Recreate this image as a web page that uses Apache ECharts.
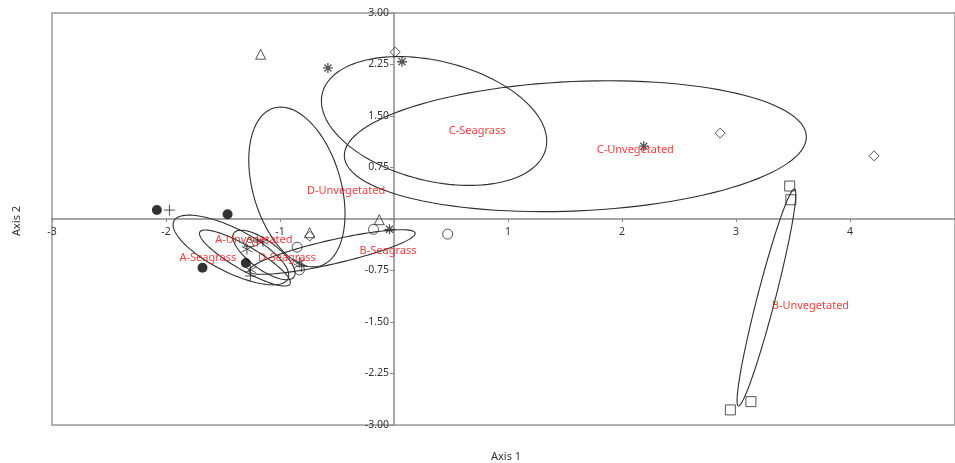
<!DOCTYPE html>
<html><head><meta charset="utf-8">
<script src="https://cdn.jsdelivr.net/npm/echarts@6/dist/echarts.min.js"></script>
<style>html,body{margin:0;padding:0;background:#fff}#c{width:955px;height:463px}</style>
</head><body><div id="c"></div>
<script>
// Group names
const groups = ['A-Seagrass','A-Unvegetated','B-Seagrass','B-Unvegetated','C-Seagrass','C-Unvegetated','D-Seagrass','D-Unvegetated'];
// Point coordinates per group (Axis 1, Axis 2)
const aSeagrassX = [-2.08, -1.46, -1.68, -1.30];
const aSeagrassY = [0.13, 0.07, -0.71, -0.64];
const aUnvegX = [-1.97, -1.20, -0.81, -1.26];
const aUnvegY = [0.13, -0.32, -0.69, -0.83];
const bSeagrassX = [-0.85, -0.83, -0.18, 0.47];
const bSeagrassY = [-0.41, -0.74, -0.15, -0.22];
const bUnvegX = [3.47, 3.48, 2.95, 3.13];
const bUnvegY = [0.48, 0.28, -2.78, -2.66];
const cSeagrassX = [-0.58, 0.07, 2.19, -0.04];
const cSeagrassY = [2.20, 2.29, 1.06, -0.15];
const cUnvegX = [0.01, 2.86, 4.21, -0.74];
const cUnvegY = [2.43, 1.25, 0.92, -0.25];
const dSeagrassX = [-1.29, -1.26, -1.15, -0.83];
const dSeagrassY = [-0.44, -0.74, -0.33, -0.63];
const dUnvegX = [-1.17, -0.74, -0.13, -1.27];
const dUnvegY = [2.40, -0.20, -0.01, -0.33];
// Ellipses: centre, half major-axis vector (data units), minor/major ratio
const ellipseCx = [-1.431, -1.308, -0.544, 3.266, 0.351, 1.59, -1.141, -0.852];
const ellipseCy = [-0.451, -0.568, -0.481, -1.143, 1.427, 1.06, -0.524, 0.466];
const ellipseUx = [0.500, 0.395, 0.729, 0.246, 0.98, 2.026, 0.263, 0.202];
const ellipseUy = [-0.422, -0.379, 0.277, 1.580, -0.405, 0.146, -0.320, -1.150];
const ellipseRatio = [0.34, 0.23, 0.14, 0.08, 0.52, 0.28, 0.38, 0.535];
// Group label positions
const labelX = [-1.633, -1.229, -0.053, 3.652, 0.729, 2.116, -0.939, -0.421];
const labelY = [-0.568, -0.306, -0.466, -1.267, 1.281, 1.005, -0.568, 0.408];
// Axis ticks
const xMin = -3, xMax = 4.92, xStep = 1;
const yMin = -3, yMax = 3, yStep = 0.75;

const W = 955, H = 463;
const gridL = 52, gridR = 0, gridT = 13, gridB = 38;
const gridW = W - gridL - gridR, gridH = H - gridT - gridB;
// shift axes so they cross at the origin
const xAxisOffset = -((0 - yMin) / (yMax - yMin)) * gridH;
const yAxisOffset = -((0 - xMin) / (xMax - xMin)) * gridW;

const zip = (xs, ys) => xs.map((x, i) => [x, ys[i]]);
const plusPath = 'path://M0,-5L0,5M-5,0L5,0';
const asteriskPath = 'path://M0,-5L0,5M-5,0L5,0M-3.5,-3.5L3.5,3.5M-3.5,3.5L3.5,-3.5';
const star6Path = 'path://M0,-5L0,5M-4.3,-2.5L4.3,2.5M-4.3,2.5L4.3,-2.5';

function pts(name, xs, ys, symbol, size, filled, bw) {
  return {
    type: 'scatter', name, data: zip(xs, ys), symbol, symbolSize: size, z: 5,
    itemStyle: filled ? {color: '#000'} : {color: 'rgba(255,255,255,0)', borderColor: '#2a2a2a', borderWidth: bw || 1},
    silent: true
  };
}

const chart = echarts.init(document.getElementById('c'), null, {renderer: 'canvas'});
const tickFont = {color: '#333', fontSize: 10.5, fontFamily: 'Noto Sans'};
chart.setOption({
  animation: false,
  backgroundColor: '#fff',
  grid: {left: gridL, right: gridR, top: gridT, bottom: gridB, containLabel: false, outerBoundsMode: 'none',
         show: true, borderColor: '#999', borderWidth: 1.5},
  xAxis: {
    type: 'value', min: xMin, max: xMax, interval: xStep, offset: xAxisOffset,
    axisLine: {onZero: false, lineStyle: {color: '#888', width: 1.5}},
    axisTick: {show: true, length: 3, lineStyle: {color: '#888'}},
    splitLine: {show: false},
    axisLabel: Object.assign({margin: 8, showMaxLabel: false,
      formatter: v => (v === 0 || Math.abs(v - Math.round(v)) > 1e-9) ? '' : String(v)}, tickFont)
  },
  yAxis: {
    type: 'value', min: yMin, max: yMax, interval: yStep, offset: yAxisOffset,
    axisLine: {onZero: false, lineStyle: {color: '#888', width: 1.5}},
    axisTick: {show: true, length: 4, lineStyle: {color: '#888'}},
    splitLine: {show: false},
    axisLabel: Object.assign({margin: 5, formatter: v => Math.abs(v) < 1e-9 ? '' : v.toFixed(2)}, tickFont)
  },
  graphic: [
    {type: 'text', left: 491, top: 451, style: {text: 'Axis 1', fill: '#333', font: '11px "Noto Sans"'}},
    {type: 'text', x: 11, y: 236, rotation: Math.PI / 2, style: {text: 'Axis 2', fill: '#333', font: '11px "Noto Sans"'}}
  ],
  series: [
    {
      type: 'custom', name: 'ellipses', z: 3, silent: true,
      data: ellipseCx.map((c, i) => [c, ellipseCy[i], ellipseUx[i], ellipseUy[i], ellipseRatio[i]]),
      dimensions: ['cx','cy','ux','uy','r'],
      encode: {x: 0, y: 1},
      renderItem: function (params, api) {
        const cx = api.value(0), cy = api.value(1), ux = api.value(2), uy = api.value(3), r = api.value(4);
        const c = api.coord([cx, cy]);
        const e = api.coord([cx + ux, cy + uy]);
        const dx = e[0] - c[0], dy = e[1] - c[1];
        const px = -dy * r, py = dx * r;
        const p = [];
        for (let i = 0; i < 120; i++) {
          const t = i / 120 * Math.PI * 2;
          p.push([c[0] + dx * Math.cos(t) + px * Math.sin(t), c[1] + dy * Math.cos(t) + py * Math.sin(t)]);
        }
        return {type: 'polygon', shape: {points: p}, style: {fill: 'none', stroke: '#2f2f2f', lineWidth: 1.1}};
      }
    },
    pts(groups[0], aSeagrassX, aSeagrassY, 'circle', 10, true),
    pts(groups[1], aUnvegX, aUnvegY, plusPath, 11, false),
    pts(groups[2], bSeagrassX, bSeagrassY, 'circle', 10, false),
    pts(groups[3], bUnvegX, bUnvegY, 'rect', 10, false),
    pts(groups[4], cSeagrassX, cSeagrassY, asteriskPath, 10, false, 1.3),
    pts(groups[5], cUnvegX, cUnvegY, 'diamond', 10, false),
    pts(groups[6], dSeagrassX, dSeagrassY, star6Path, 11, false),
    pts(groups[7], dUnvegX, dUnvegY, 'triangle', 10, false),
    {
      type: 'scatter', name: 'labels', symbolSize: 0, z: 6, silent: true,
      data: groups.map((g, i) => ({name: g, value: [labelX[i], labelY[i]]})),
      label: {show: true, position: 'inside', formatter: '{b}', color: '#ff0a0a', fontSize: 11, fontFamily: 'Noto Sans'}
    }
  ]
});
</script></body></html>
